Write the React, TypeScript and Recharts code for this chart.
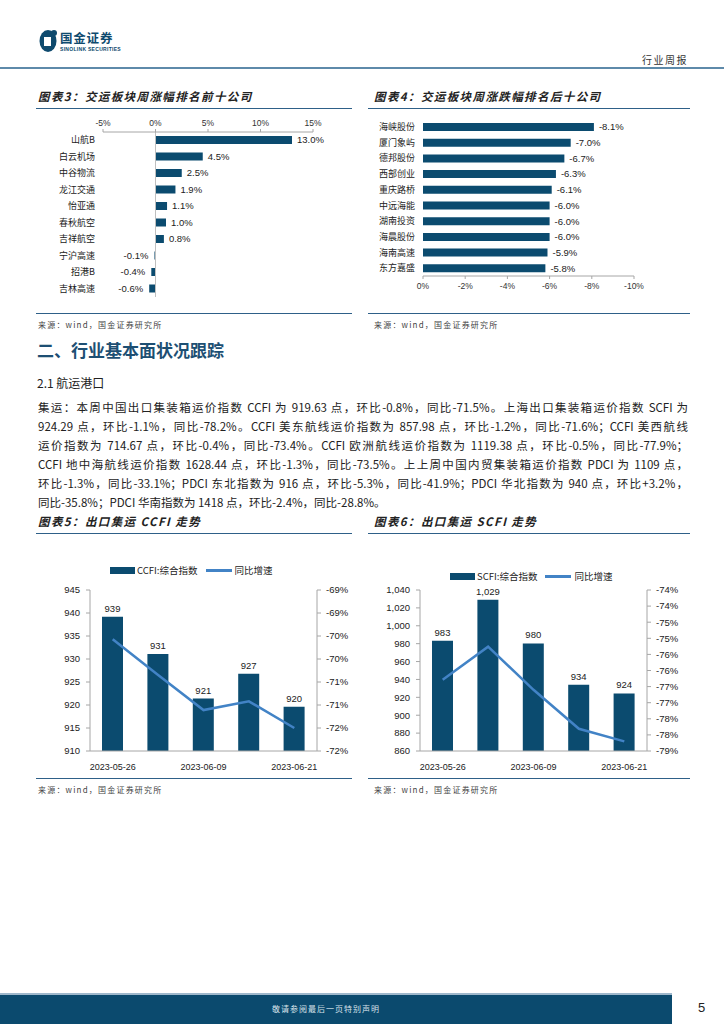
import React from "react";
import {
  BarChart,
  ComposedChart,
  Bar,
  Line,
  XAxis,
  YAxis,
  LabelList,
  ReferenceLine,
  Legend,
} from "recharts";

// 图表3 周涨幅前十
const topNames = ["山航B", "白云机场", "中谷物流", "龙江交通", "怡亚通", "春秋航空", "吉祥航空", "宁沪高速", "招港B", "吉林高速"];
const topValues = [13.0, 4.5, 2.5, 1.9, 1.1, 1.0, 0.8, -0.1, -0.4, -0.6];
const topTicks = [-5, 0, 5, 10, 15];

// 图表4 周跌幅前十
const lowNames = ["海峡股份", "厦门象屿", "德邦股份", "西部创业", "重庆路桥", "中远海能", "湖南投资", "海晨股份", "海南高速", "东方嘉盛"];
const lowValues = [-8.1, -7.0, -6.7, -6.3, -6.1, -6.0, -6.0, -6.0, -5.9, -5.8];
const lowTicks = [0, -2, -4, -6, -8, -10];

// 图表5/6 集运指数
const weekDates = ["2023-05-26", "2023-06-02", "2023-06-09", "2023-06-16", "2023-06-21"];
const ccfiIndex = [939.2, 931.1, 921.4, 926.8, 919.63];
const ccfiYoy = [-69.57, -70.35, -71.11, -70.92, -71.5];
const ccfiLeftTicks = [910, 915, 920, 925, 930, 935, 940, 945];
const ccfiRightTicks = [-72, -71.5, -71, -70.5, -70, -69.5, -69, -68.5];

const scfiIndex = [983.4, 1029.2, 980.3, 934.1, 924.29];
const scfiYoy = [-76.29, -75.26, -76.6, -77.81, -78.2];
const scfiLeftTicks = [860, 880, 900, 920, 940, 960, 980, 1000, 1020, 1040];
const scfiRightTicks = [-78.5, -78, -77.5, -77, -76.5, -76, -75.5, -75, -74.5, -74, -73.5];

const paragraph = [
  "集运：本周中国出口集装箱运价指数 CCFI 为 919.63 点，环比-0.8%，同比-71.5%。上海出口集装箱运价指数 SCFI 为",
  "924.29 点，环比-1.1%，同比-78.2%。CCFI 美东航线运价指数为 857.98 点，环比-1.2%，同比-71.6%；CCFI 美西航线",
  "运价指数为 714.67 点，环比-0.4%，同比-73.4%。CCFI 欧洲航线运价指数为 1119.38 点，环比-0.5%，同比-77.9%；",
  "CCFI 地中海航线运价指数 1628.44 点，环比-1.3%，同比-73.5%。上上周中国内贸集装箱运价指数 PDCI 为 1109 点，",
  "环比-1.3%，同比-33.1%；PDCI 东北指数为 916 点，环比-5.3%，同比-41.9%；PDCI 华北指数为 940 点，环比+3.2%，",
  "同比-35.8%；PDCI 华南指数为 1418 点，环比-2.4%，同比-28.8%。",
];

const topData = topNames.map((name, i) => ({ name, value: topValues[i] }));
const lowData = lowNames.map((name, i) => ({ name, value: lowValues[i] }));
const ccfiData = weekDates.map((date, i) => ({ date, index: ccfiIndex[i], yoy: ccfiYoy[i] }));
const scfiData = weekDates.map((date, i) => ({ date, index: scfiIndex[i], yoy: scfiYoy[i] }));

const FONT = '"Liberation Sans", Arial, "Noto Sans CJK SC", sans-serif';
const CJK = '"Noto Sans CJK SC", "Liberation Sans", sans-serif';
const BAR = "#0B4B6F";
const LINE = "#4283C6";
const NAVY = "#1D4F73";
const RULE = "#2E6088";
const AXIS = "#a6a6a6";

const Txt = ({ x, y, size, children, style }: any) => (
  <div
    style={{
      position: "absolute",
      left: x,
      top: y - size * 0.6,
      fontSize: size,
      lineHeight: `${size * 1.2}px`,
      whiteSpace: "nowrap",
      fontFamily: CJK,
      color: "#222",
      ...style,
    }}
  >
    {children}
  </div>
);

const HLine = ({ x, y, w, color = RULE, h = 1 }: any) => (
  <div style={{ position: "absolute", left: x, top: y, width: w, height: h, background: color }} />
);

// label at the end of a horizontal bar
const endLabel = (rightOnly: boolean) => (props: any) => {
  const vb = props.viewBox || props;
  const x = vb.x ?? props.x;
  const y = vb.y ?? props.y;
  const w = vb.width ?? props.width;
  const h = vb.height ?? props.height;
  const v = Number(props.value);
  const goRight = rightOnly || v >= 0;
  const tx = goRight ? Math.max(x, x + w) + 5 : Math.min(x, x + w) - 6;
  return (
    <text
      x={tx}
      y={y + h / 2}
      dy="0.35em"
      textAnchor={goRight ? "start" : "end"}
      fontSize={9.5}
      fill="#222"
      fontFamily={FONT}
    >
      {v.toFixed(1)}%
    </text>
  );
};

const legendBox = (props: any) => {
  const items = props.payload || [];
  return (
    <div style={{ display: "flex", alignItems: "center", fontFamily: CJK, fontSize: 9.5, color: "#222", whiteSpace: "nowrap" }}>
      {items.map((it: any, i: number) => (
        <div key={i} style={{ display: "flex", alignItems: "center", marginRight: 8 }}>
          {it.type === "line" ? (
            <span style={{ display: "inline-block", width: 26, height: 3, background: it.color, marginRight: 3 }} />
          ) : (
            <span style={{ display: "inline-block", width: 25, height: 7, background: it.color, marginRight: 2 }} />
          )}
          <span>{it.value}</span>
        </div>
      ))}
    </div>
  );
};

const tickStyle = { fontSize: 9.5, fill: "#222", fontFamily: FONT };

const IndexChart = ({ data, leftTicks, rightTicks, barName, legendLeft, legendTop }: any) => (
  <ComposedChart width={325} height={220} data={data} margin={{ top: 35, right: 0, bottom: 0, left: 0 }}>
    <XAxis
      dataKey="date"
      interval={1}
      tickLine={false}
      axisLine={{ stroke: AXIS }}
      height={24}
      tickMargin={7}
      tick={{ ...tickStyle, fontSize: 9 }}
    />
    <YAxis
      yAxisId="l"
      domain={[leftTicks[0], leftTicks[leftTicks.length - 1]]}
      ticks={leftTicks}
      interval={0}
      width={60}
      axisLine={{ stroke: AXIS }}
      tickLine={{ stroke: AXIS }}
      tickSize={4}
      tickMargin={6}
      tickFormatter={(v: number) => v.toLocaleString("en-US")}
      tick={tickStyle}
    />
    <YAxis
      yAxisId="r"
      orientation="right"
      domain={[rightTicks[0], rightTicks[rightTicks.length - 1]]}
      ticks={rightTicks}
      interval={0}
      width={38}
      axisLine={{ stroke: AXIS }}
      tickLine={{ stroke: AXIS }}
      tickSize={4}
      tickMargin={5}
      tickFormatter={(v: number) => `${v.toFixed(0)}%`}
      tick={tickStyle}
    />
    <Legend
      content={legendBox}
      layout="vertical"
      align="center"
      verticalAlign="middle"
      wrapperStyle={{ left: legendLeft, top: legendTop, width: "auto", height: "auto" }}
    />
    <Bar yAxisId="l" dataKey="index" name={barName} fill={BAR} barSize={21} legendType="rect" isAnimationActive={false}>
      <LabelList
        dataKey="index"
        position="top"
        offset={5}
        formatter={(v: any) => Math.round(Number(v)).toLocaleString("en-US")}
        style={{ fontSize: 9.5, fill: "#222", fontFamily: FONT }}
      />
    </Bar>
    <Line
      yAxisId="r"
      dataKey="yoy"
      name="同比增速"
      stroke={LINE}
      strokeWidth={2.5}
      dot={false}
      legendType="line"
      isAnimationActive={false}
    />
  </ComposedChart>
);

const titleStyle = { fontWeight: 700, fontStyle: "italic", letterSpacing: 1.4 };
const sourceStyle = { color: "#444", letterSpacing: 1.2 };

export default function App() {
  return (
    <div style={{ position: "absolute", left: 0, top: 0, width: 724, height: 1024, background: "#fff", overflow: "hidden" }}>
      {/* header */}
      <svg style={{ position: "absolute", left: 39, top: 29 }} width={20} height={24}>
        <ellipse cx={9} cy={12} rx={8.5} ry={11} fill="#0E4A6E" />
        <rect x={5} y={8} width={7} height={9} fill="#fff" />
        <circle cx={15} cy={4} r={3} fill="#0E4A6E" />
      </svg>
      <Txt x={60} y={37} size={12.5} style={{ fontWeight: 700, color: "#0E4A6E", letterSpacing: 0.8 }}>
        国金证券
      </Txt>
      <Txt x={60} y={49} size={5} style={{ fontWeight: 700, color: "#0E4A6E", fontFamily: FONT, letterSpacing: 0.3 }}>
        SINOLINK SECURITIES
      </Txt>
      <Txt x={642} y={60} size={10} style={{ color: "#333", letterSpacing: 1.5 }}>
        行业周报
      </Txt>
      <HLine x={0} y={67} w={724} h={2} color="#5E8AAA" />

      {/* chart titles */}
      <Txt x={38} y={97} size={11.5} style={titleStyle}>
        图表3：交运板块周涨幅排名前十公司
      </Txt>
      <HLine x={36} y={108} w={316} />
      <Txt x={374} y={97} size={11.5} style={titleStyle}>
        图表4：交运板块周涨跌幅排名后十公司
      </Txt>
      <HLine x={368} y={108} w={322} />

      <div style={{ position: "absolute", left: 36, top: 110 }}>
        <BarChart width={320} height={188} layout="vertical" data={topData} margin={{ top: 0, right: 43, bottom: 1, left: 0 }}>
          <XAxis
            type="number"
            orientation="top"
            domain={[-5, 15]}
            ticks={topTicks}
            interval={0}
            height={22}
            axisLine={{ stroke: AXIS }}
            tickLine={{ stroke: AXIS }}
            tickSize={3}
            tickMargin={3}
            tickFormatter={(v: number) => `${v}%`}
            tick={{ fontSize: 8.5, fill: "#333", fontFamily: FONT }}
          />
          <YAxis
            type="category"
            dataKey="name"
            width={67}
            interval={0}
            axisLine={false}
            tickLine={false}
            tick={{ fontSize: 9, fill: "#222", fontFamily: CJK }}
          />
          <ReferenceLine x={0} stroke="#bfbfbf" />
          <Bar dataKey="value" fill={BAR} barSize={8} isAnimationActive={false}>
            <LabelList dataKey="value" content={endLabel(false)} />
          </Bar>
        </BarChart>
      </div>

      <div style={{ position: "absolute", left: 360, top: 110 }}>
        <BarChart width={320} height={186} layout="vertical" data={lowData} margin={{ top: 9, right: 46, bottom: 0, left: 0 }}>
          <XAxis
            type="number"
            reversed
            domain={[-10, 0]}
            ticks={lowTicks}
            interval={0}
            height={20}
            axisLine={{ stroke: AXIS }}
            tickLine={{ stroke: AXIS }}
            tickSize={3}
            tickMargin={4}
            tickFormatter={(v: number) => `${v}%`}
            tick={{ fontSize: 8.5, fill: "#333", fontFamily: FONT }}
          />
          <YAxis
            type="category"
            dataKey="name"
            width={63}
            interval={0}
            axisLine={false}
            tickLine={false}
            tick={{ fontSize: 9, fill: "#222", fontFamily: CJK }}
          />
          <Bar dataKey="value" fill={BAR} barSize={8} isAnimationActive={false}>
            <LabelList dataKey="value" content={endLabel(true)} />
          </Bar>
        </BarChart>
      </div>

      <HLine x={36} y={313} w={316} />
      <HLine x={368} y={313} w={322} />
      <Txt x={38} y={325} size={8} style={sourceStyle}>
        来源：wind，国金证券研究所
      </Txt>
      <Txt x={374} y={325} size={8} style={sourceStyle}>
        来源：wind，国金证券研究所
      </Txt>

      {/* section text */}
      <Txt x={37} y={350} size={17} style={{ fontWeight: 700, color: NAVY }}>
        二、行业基本面状况跟踪
      </Txt>
      <Txt x={37} y={383} size={12} style={{ color: "#222" }}>
        2.1 航运港口
      </Txt>
      {paragraph.map((line, i) => (
        <div
          key={i}
          style={{
            position: "absolute",
            left: 38,
            top: 407 + i * 19 - 7,
            width: i === paragraph.length - 1 ? undefined : 650,
            fontSize: 11.5,
            lineHeight: "14px",
            fontFamily: CJK,
            color: "#222",
            whiteSpace: "nowrap",
            textAlign: "justify",
            textAlignLast: i === paragraph.length - 1 ? "left" : "justify",
          }}
        >
          {line}
        </div>
      ))}

      <Txt x={38} y={522} size={11.5} style={titleStyle}>
        图表5：出口集运 CCFI 走势
      </Txt>
      <HLine x={36} y={533} w={316} />
      <Txt x={374} y={522} size={11.5} style={titleStyle}>
        图表6：出口集运 SCFI 走势
      </Txt>
      <HLine x={368} y={533} w={322} />

      <div style={{ position: "absolute", left: 30, top: 555 }}>
        <IndexChart data={ccfiData} leftTicks={ccfiLeftTicks} rightTicks={ccfiRightTicks} barName="CCFI:综合指数" legendLeft={80} legendTop={8} />
      </div>
      <div style={{ position: "absolute", left: 360, top: 555 }}>
        <IndexChart data={scfiData} leftTicks={scfiLeftTicks} rightTicks={scfiRightTicks} barName="SCFI:综合指数" legendLeft={90} legendTop={14} />
      </div>

      <HLine x={36} y={778} w={316} />
      <HLine x={368} y={778} w={322} />
      <Txt x={38} y={790} size={8} style={sourceStyle}>
        来源：wind，国金证券研究所
      </Txt>
      <Txt x={374} y={790} size={8} style={sourceStyle}>
        来源：wind，国金证券研究所
      </Txt>

      {/* footer */}
      <HLine x={0} y={993} w={672} h={2} color="#9FB8CC" />
      <div style={{ position: "absolute", left: 0, top: 995, width: 672, height: 29, background: "#0B4A6E" }} />
      <Txt x={272} y={1009} size={8} style={{ color: "#d8e2ea", letterSpacing: 1 }}>
        敬请参阅最后一页特别声明
      </Txt>
      <Txt x={698} y={1008} size={13} style={{ color: "#222", fontFamily: FONT }}>
        5
      </Txt>
    </div>
  );
}
